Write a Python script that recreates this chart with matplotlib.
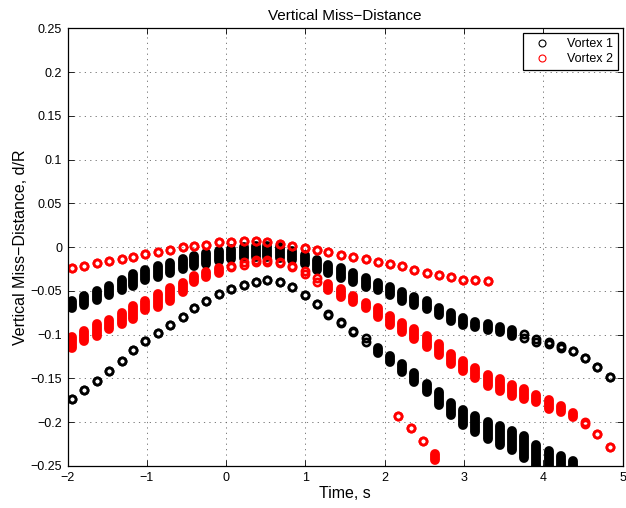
import numpy as np
import matplotlib
matplotlib.use("Agg")
from matplotlib import pyplot as plt
from matplotlib.lines import Line2D

plt.rcParams['font.family'] = ['Liberation Sans', 'DejaVu Sans']

# sample times, s
time = [-1.94, -1.79, -1.63, -1.48, -1.32, -1.17, -1.02, -0.86, -0.71, -0.55,
        -0.40, -0.25, -0.09, 0.06, 0.22, 0.37, 0.52, 0.68, 0.83, 0.99,
        1.14, 1.29, 1.45, 1.60, 1.76, 1.91, 2.06, 2.22, 2.37, 2.53,
        2.68, 2.83, 2.99, 3.14, 3.30, 3.45, 3.60, 3.76, 3.91, 4.07,
        4.22, 4.37, 4.53, 4.68, 4.84]

# vortex 1, upper band (top / bottom of the spread at each time)
v1a_hi = [-0.061, -0.056, -0.050, -0.044, -0.037, -0.031, -0.026, -0.022, -0.018, -0.014,
          -0.010, -0.007, -0.004, -0.002, 0.000, 0.001, 0.001, 0.000, -0.004, -0.009,
          -0.015, -0.020, -0.024, -0.029, -0.035, -0.041, -0.046, -0.051, -0.057, -0.062,
          -0.069, -0.075, -0.081, -0.085, -0.088, -0.091, -0.095, -0.099, -0.105, -0.108,
          -0.113, -0.119, -0.1265, -0.1365, -0.148]
v1a_lo = [-0.070, -0.066, -0.060, -0.055, -0.049, -0.044, -0.038, -0.034, -0.029, -0.025,
          -0.021, -0.019, -0.016, -0.014, -0.012, -0.011, -0.011, -0.012, -0.015, -0.019,
          -0.026, -0.029, -0.035, -0.040, -0.046, -0.0495, -0.055, -0.061, -0.0665, -0.071,
          -0.077, -0.084, -0.089, -0.0914, -0.095, -0.097, -0.101, -0.104, -0.1085, -0.111,
          -0.115, -0.119, -0.1265, -0.1365, -0.148]

# vortex 1, lower branch (first 42 times)
v1b_hi = [-0.174, -0.163, -0.1525, -0.1415, -0.130, -0.118, -0.107, -0.098, -0.089, -0.080,
          -0.070, -0.0615, -0.054, -0.048, -0.043, -0.0395, -0.0375, -0.0395, -0.045, -0.0545,
          -0.065, -0.076, -0.086, -0.0955, -0.104, -0.115, -0.1245, -0.134, -0.1435, -0.156,
          -0.166, -0.178, -0.1855, -0.193, -0.1995, -0.2045, -0.210, -0.216, -0.2255, -0.233,
          -0.239, -0.244]
v1b_lo = [-0.174, -0.163, -0.1525, -0.1415, -0.130, -0.118, -0.107, -0.098, -0.089, -0.080,
          -0.070, -0.0615, -0.054, -0.048, -0.043, -0.0395, -0.0375, -0.0395, -0.045, -0.0545,
          -0.065, -0.077, -0.087, -0.097, -0.108, -0.1205, -0.131, -0.143, -0.154, -0.166,
          -0.180, -0.192, -0.203, -0.211, -0.219, -0.2265, -0.232, -0.241, -0.252, -0.258,
          -0.260, -0.262]

# vortex 2, upper branch (first 35 times)
v2a = [-0.024, -0.021, -0.018, -0.016, -0.013, -0.011, -0.008, -0.0055, -0.003, 0.000,
       0.001, 0.003, 0.0055, 0.006, 0.007, 0.007, 0.0055, 0.004, 0.0015, -0.001,
       -0.003, -0.006, -0.0085, -0.011, -0.014, -0.017, -0.019, -0.022, -0.026, -0.029,
       -0.032, -0.034, -0.037, -0.0375, -0.039]

# vortex 2, middle band
v2b_hi = [-0.103, -0.096, -0.088, -0.083, -0.075, -0.0675, -0.062, -0.054, -0.0465, -0.041,
          -0.033, -0.028, -0.024, -0.021, -0.017, -0.015, -0.015, -0.017, -0.021, -0.027,
          -0.035, -0.0425, -0.048, -0.056, -0.0635, -0.069, -0.079, -0.0865, -0.094, -0.1015,
          -0.111, -0.1225, -0.130, -0.138, -0.1455, -0.151, -0.157, -0.1625, -0.169, -0.175,
          -0.182, -0.189, -0.1995, -0.2137, -0.228]
v2b_lo = [-0.115, -0.107, -0.101, -0.093, -0.0875, -0.082, -0.072, -0.0685, -0.061, -0.0515,
          -0.040, -0.034, -0.029, -0.023, -0.020, -0.017, -0.017, -0.018, -0.023, -0.031,
          -0.040, -0.0495, -0.057, -0.063, -0.070, -0.080, -0.0895, -0.097, -0.105, -0.114,
          -0.123, -0.133, -0.142, -0.150, -0.159, -0.164, -0.1695, -0.173, -0.177, -0.185,
          -0.1885, -0.194, -0.2015, -0.2137, -0.228]

# vortex 2, short lower branch
v2c_time = [2.17, 2.325, 2.48, 2.63]
v2c_hi = [-0.193, -0.207, -0.222, -0.236]
v2c_lo = [-0.193, -0.207, -0.222, -0.243]

xticks = [-2, -1, 0, 1, 2, 3, 4, 5]
xtick_labels = ['\u22122', '\u22121', '0', '1', '2', '3', '4', '5']
yticks = [-0.25, -0.2, -0.15, -0.1, -0.05, 0, 0.05, 0.1, 0.15, 0.2, 0.25]
ytick_labels = ['\u22120.25', '\u22120.2', '\u22120.15', '\u22120.1', '\u22120.05', '0',
                '0.05', '0.1', '0.15', '0.2', '0.25']

MS = 5.2     # marker size, pt
MEW = 1.9    # ring thickness, pt


def draw_band(ax, t, hi, lo, color):
    t, hi, lo = np.asarray(t), np.asarray(hi), np.asarray(lo)
    wide = (hi - lo) > 0.005
    # spread-out columns: overlapping circles merge into a solid pill
    ax.vlines(t[wide], lo[wide], hi[wide], colors=color,
              linewidth=MS + MEW, capstyle='round')
    for y in (hi[~wide], lo[~wide]):
        ax.plot(t[~wide], y, 'o', ls='none', mfc='none', mec=color,
                ms=MS, mew=MEW)


fig = plt.figure(figsize=(6.26, 5.08), dpi=100)
ax = fig.add_axes([0.108, 0.0827, 0.8867, 0.8616])

n = len(v1b_hi)
draw_band(ax, time, v1a_hi, v1a_lo, 'black')
draw_band(ax, time[:n], v1b_hi, v1b_lo, 'black')
m = len(v2a)
draw_band(ax, time[:m], v2a, v2a, 'red')
draw_band(ax, time, v2b_hi, v2b_lo, 'red')
draw_band(ax, v2c_time, v2c_hi, v2c_lo, 'red')

ax.set_xlim(-2, 5)
ax.set_ylim(-0.25, 0.25)
ax.set_xticks(xticks)
ax.set_xticklabels(xtick_labels)
ax.set_yticks(yticks)
ax.set_yticklabels(ytick_labels)
ax.tick_params(direction='in', length=4, width=0.6, labelsize=9,
               top=True, right=True, pad=4)
ax.grid(True, color='0.4', linestyle=(0, (1.5, 5)), linewidth=0.6)
for s in ax.spines.values():
    s.set_linewidth(0.9)

ax.set_title('Vertical Miss\u2212Distance', fontsize=11)
ax.set_xlabel('Time, s', fontsize=11.5, labelpad=2)
ax.set_ylabel('Vertical Miss\u2212Distance, d/R', fontsize=11.5, labelpad=2)

handles = [Line2D([], [], marker='o', ls='none', mfc='none', mec='black', ms=5, mew=0.8),
           Line2D([], [], marker='o', ls='none', mfc='none', mec='red', ms=5, mew=0.8)]
leg = ax.legend(handles, ['Vortex 1', 'Vortex 2'], loc='upper right',
                bbox_to_anchor=(0.9915, 0.989), borderaxespad=0, fontsize=9,
                fancybox=False, framealpha=1, edgecolor='black',
                handlelength=2.2, handletextpad=0.9, borderpad=0.4,
                labelspacing=0.25)
leg.get_frame().set_linewidth(0.9)

fig.savefig('out.png', dpi=100)
